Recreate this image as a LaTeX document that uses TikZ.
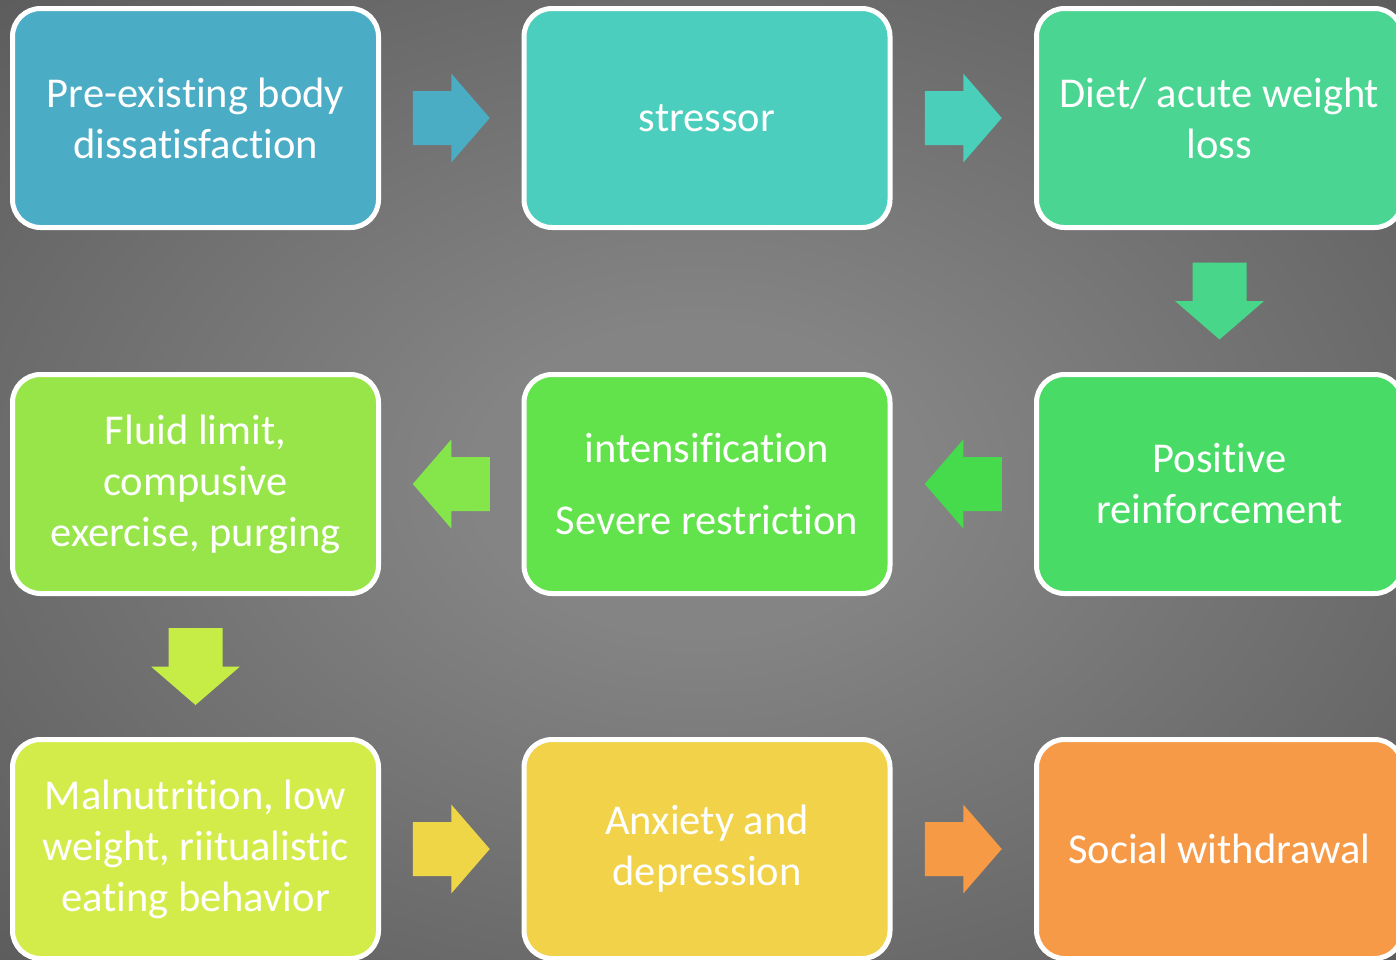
\documentclass[tikz,border=0pt]{standalone}
\usepackage{fontspec}
\setmainfont{Carlito}[Ligatures={NoCommon}]
\usetikzlibrary{calc}
\newcommand\tI{t\kern0pt{}i}
\definecolor{bgin}{HTML}{848484}
\definecolor{bgmid}{HTML}{5C5C5C}
\definecolor{bgedge}{HTML}{484848}
\definecolor{bgout}{HTML}{303030}
\pgfdeclareradialshading{bgshade}{\pgfpoint{0bp}{0bp}}{color(0bp)=(bgin); color(8bp)=(bgin); color(36bp)=(bgmid); color(50bp)=(bgedge); color(71bp)=(bgout)}
\definecolor{c1}{HTML}{4BACC6}\definecolor{a1}{HTML}{4AADC4}
\definecolor{c2}{HTML}{4BCEBE}\definecolor{a2}{HTML}{4ACFBA}
\definecolor{c3}{HTML}{4AD592}\definecolor{a3}{HTML}{48D78A}
\definecolor{c4}{HTML}{48DB66}\definecolor{a4}{HTML}{46DB4C}
\definecolor{c5}{HTML}{62E24B}\definecolor{a5}{HTML}{84E64A}
\definecolor{c6}{HTML}{97E548}\definecolor{a6}{HTML}{C6EC46}
\definecolor{c7}{HTML}{D4EC4A}\definecolor{a7}{HTML}{EFD646}
\definecolor{c8}{HTML}{F1D248}\definecolor{a8}{HTML}{F79A46}
\definecolor{c9}{HTML}{F79A48}
\newcommand\blockarrow[4]{%
  \begin{scope}[shift={($(#1)!0.5!(#2)$)}, rotate=#4]
    \fill[#3] (-38.5,-27) -- (0,-27) -- (0,-44.5) -- (38.5,0) -- (0,44.5) -- (0,27) -- (-38.5,27) -- cycle;
  \end{scope}}
\begin{document}
\begin{tikzpicture}[x=1pt,y=-1pt,
  box/.style={draw=white, line width=5pt, rounded corners=28pt,
    minimum width=366pt, minimum height=219pt, inner sep=0pt,
    text=white, align=center, font=\fontsize{42.5}{51}\selectfont}]
\useasboundingbox (0,0) rectangle (1396,959);
\shade[shading=bgshade] (0,0) rectangle (1396,959);
\node[box, fill=c1] (n1) at (195.5,118) {Pre-exis\tI ng body\\dissa\tI sfac\tI on};
\node[box, fill=c2] (n2) at (707,118) {stressor};
\node[box, fill=c3] (n3) at (1219.5,118) {Diet/ acute weight\\loss};
\node[box, fill=c4] (n4) at (1219.5,484) {Posi\tI ve\\reinforcement};
\node[box, fill=c5] (n5) at (707,484) {intensifica\tI on\\[21pt]Severe restric\tI on};
\node[box, fill=c6] (n6) at (195.5,484) {Fluid limit,\\compusive\\exercise, purging};
\node[box, fill=c7] (n7) at (195.5,849) {Malnutri\tI on, low\\weight, riitualis\tI c\\ea\tI ng behavior};
\node[box, fill=c8] (n8) at (707,849) {Anxiety and\\depression};
\node[box, fill=c9] (n9) at (1219.5,849) {Social withdrawal};
\blockarrow{n1.east}{n2.west}{a1}{0}
\blockarrow{n2.east}{n3.west}{a2}{0}
\blockarrow{n3.south}{n4.north}{a3}{-90}
\blockarrow{n4.west}{n5.east}{a4}{180}
\blockarrow{n5.west}{n6.east}{a5}{180}
\blockarrow{n6.south}{n7.north}{a6}{-90}
\blockarrow{n7.east}{n8.west}{a7}{0}
\blockarrow{n8.east}{n9.west}{a8}{0}
\end{tikzpicture}
\end{document}
